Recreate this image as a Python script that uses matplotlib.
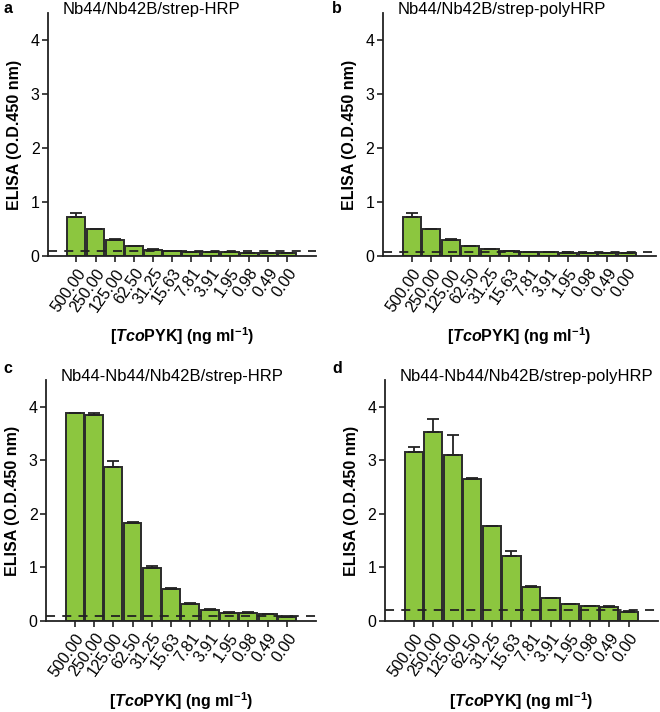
import numpy as np
import matplotlib.pyplot as plt

plt.rcParams["font.family"] = ["Liberation Sans", "DejaVu Sans"]
plt.rcParams["mathtext.fontset"] = "custom"
plt.rcParams["mathtext.rm"] = "Liberation Sans"
plt.rcParams["mathtext.bf"] = "Liberation Sans:bold"
plt.rcParams["mathtext.it"] = "Liberation Sans:italic:bold"

# ---- Data ----
conc_labels = ["500.00", "250.00", "125.00", "62.50", "31.25", "15.63",
               "7.81", "3.91", "1.95", "0.98", "0.49", "0.00"]

titles = ["Nb44/Nb42B/strep-HRP", "Nb44/Nb42B/strep-polyHRP",
          "Nb44-Nb44/Nb42B/strep-HRP", "Nb44-Nb44/Nb42B/strep-polyHRP"]
letters = ["a", "b", "c", "d"]

vals_a = [0.73, 0.50, 0.30, 0.18, 0.12, 0.09, 0.075, 0.07, 0.07, 0.06, 0.06, 0.05]
err_a = [0.06, 0.01, 0.01, 0.005, 0.01, 0.005, 0.005, 0.005, 0.005, 0.005, 0.005, 0.005]
vals_b = [0.73, 0.50, 0.30, 0.18, 0.13, 0.09, 0.07, 0.07, 0.065, 0.06, 0.06, 0.05]
err_b = [0.06, 0.01, 0.01, 0.005, 0.005, 0.005, 0.005, 0.005, 0.005, 0.005, 0.005, 0.005]
vals_c = [3.88, 3.85, 2.88, 1.835, 0.98, 0.60, 0.32, 0.21, 0.155, 0.15, 0.12, 0.075]
err_c = [0.01, 0.04, 0.10, 0.02, 0.05, 0.02, 0.01, 0.01, 0.005, 0.01, 0.01, 0.01]
vals_d = [3.16, 3.54, 3.11, 2.66, 1.77, 1.21, 0.64, 0.42, 0.31, 0.27, 0.25, 0.17]
err_d = [0.09, 0.23, 0.37, 0.01, 0.005, 0.09, 0.01, 0.005, 0.01, 0.005, 0.02, 0.02]

baselines = [0.10, 0.07, 0.09, 0.20]

all_vals = [vals_a, vals_b, vals_c, vals_d]
all_errs = [err_a, err_b, err_c, err_d]

# ---- Layout ----
fig = plt.figure(figsize=(6.6, 7.12), dpi=100)
axes_rects = [
    [0.0727, 0.6404, 0.406, 0.341],
    [0.580, 0.6404, 0.414, 0.341],
    [0.0697, 0.128, 0.409, 0.338],
    [0.583, 0.128, 0.414, 0.338],
]
letter_pos = [(0.005, 0.988), (0.503, 0.988), (0.005, 0.482), (0.503, 0.482)]

bar_color = "#8cc63f"
edge_color = "#2b2b2b"
fs = 11.5

x = np.arange(len(conc_labels))

for i in range(4):
    ax = fig.add_axes(axes_rects[i])
    vals = np.array(all_vals[i])
    errs = np.array(all_errs[i])

    ax.bar(x, vals, width=0.93, color=bar_color, edgecolor=edge_color,
           linewidth=1.4, zorder=2)
    ax.errorbar(x, vals, yerr=[np.zeros_like(errs), errs], fmt="none",
                ecolor="#222222", elinewidth=1.3, capsize=4, capthick=1.3, zorder=3)
    ax.axhline(baselines[i], color="#222222", linestyle=(0, (5, 4)),
               linewidth=1.3, zorder=4)

    ax.set_xlim(-1.48, 12.5)
    ax.set_ylim(0, 4.5)
    ax.set_yticks([0, 1, 2, 3, 4])
    ax.set_xticks(x)
    ax.set_xticklabels(conc_labels, rotation=55, ha="right",
                       rotation_mode="anchor", fontsize=fs)
    ax.tick_params(axis="y", labelsize=fs, direction="out", length=4,
                   width=1.2, color="#222222", pad=2)
    ax.tick_params(axis="x", direction="out", length=4, width=1.2,
                   color="#222222", pad=3)
    for side in ["top", "right"]:
        ax.spines[side].set_visible(False)
    for side in ["left", "bottom"]:
        ax.spines[side].set_linewidth(1.3)
        ax.spines[side].set_color("#222222")

    ax.set_ylabel("ELISA (O.D.450 nm)", fontsize=fs, fontweight="bold", labelpad=6)
    ax.set_xlabel(r"[$\it{Tco}$PYK] (ng ml$^{\mathbf{-1}}$)", fontsize=fs,
                  fontweight="bold", labelpad=8)

    ax.text(0.055, 0.997, titles[i], transform=ax.transAxes, ha="left",
            va="baseline", fontsize=12)
    fig.text(letter_pos[i][0], letter_pos[i][1], letters[i], fontsize=fs,
             fontweight="bold", va="center", ha="left")

fig.savefig("out.png", dpi=100)
